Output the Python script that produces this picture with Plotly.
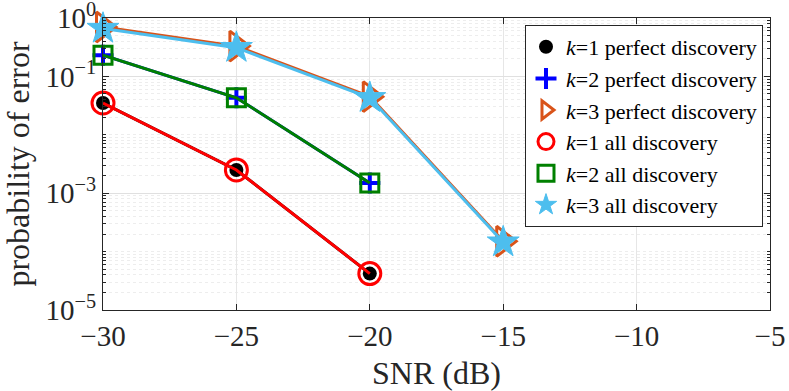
import plotly.graph_objects as go

snr = [-30, -25, -20, -15]

k1_perfect = [0.035, 0.0025, 4.2e-5]
k2_perfect = [0.23, 0.043, 0.0015]
k3_perfect = [0.70, 0.33, 0.045, 1.5e-4]
k1_all = [0.035, 0.0025, 4.2e-5]
k2_all = [0.23, 0.043, 0.0015]
k3_all = [0.66, 0.31, 0.043, 1.45e-4]

y_ticks = [1, 0.1, 1e-3, 1e-5]
y_ticktext = ["10<sup>0</sup>", "10<sup>\u22121</sup>", "10<sup>\u22123</sup>", "10<sup>\u22125</sup>"]
x_ticks = [-30, -25, -20, -15, -10, -5]
x_ticktext = ["\u221230", "\u221225", "\u221220", "\u221215", "\u221210", "\u22125"]

minor_y = [m * 10.0 ** e for e in range(-5, 0) for m in range(2, 10)] + [1e-2, 1e-4]

fig = go.Figure()

series = [
    ("<i>k</i>=1 perfect discovery", k1_perfect, "black", "circle", 14, 0),
    ("<i>k</i>=2 perfect discovery", k2_perfect, "#0000FF", "cross-thin-open", 15, 4),
    ("<i>k</i>=3 perfect discovery", k3_perfect, "#D95319", "triangle-right-open", 26, 3),
    ("<i>k</i>=1 all discovery", k1_all, "#FF0000", "circle-open", 22, 3),
    ("<i>k</i>=2 all discovery", k2_all, "#008000", "square-open", 18, 3),
    ("<i>k</i>=3 all discovery", k3_all, "#4DBEEE", "star", 24, 1),
]

for name, vals, color, sym, size, mlw in series:
    marker = dict(symbol=sym, size=size, color=color, line=dict(color=color, width=mlw))
    fig.add_trace(go.Scatter(
        x=snr[:len(vals)], y=vals, name=name, mode="lines+markers",
        line=dict(color=color, width=3), marker=marker, showlegend=False,
        cliponaxis=False,
    ))
    # marker-only legend entry, as in the MATLAB legend
    fig.add_trace(go.Scatter(
        x=[None], y=[None], name=name, mode="markers", marker=marker,
    ))

fig.update_layout(
    width=789, height=391,
    margin=dict(l=103, r=19, t=18, b=81),
    plot_bgcolor="white", paper_bgcolor="white",
    font=dict(family="Liberation Serif", size=29, color="#262626"),
    legend=dict(x=0.9895, y=0.976, xanchor="right", yanchor="top",
                bgcolor="white", bordercolor="#262626", borderwidth=1,
                font=dict(size=22, color="black"), tracegroupgap=0,
                itemwidth=30),
    showlegend=True,
)

fig.update_xaxes(
    range=[-30, -5], tickvals=x_ticks, ticktext=x_ticktext, automargin=False,
    showline=True, linecolor="#262626", linewidth=1, mirror="ticks",
    ticks="inside", ticklen=6, tickcolor="#262626", ticklabeloverflow="allow",
    showgrid=True, gridcolor="#E6E6E6", zeroline=False,
    title=dict(text="SNR (dB)", font=dict(size=32)),
)
fig.update_yaxes(
    type="log", range=[-5, 0], tickvals=y_ticks, ticktext=y_ticktext, automargin=False,
    showline=True, linecolor="#262626", linewidth=1, mirror="ticks",
    ticks="inside", ticklen=6, tickcolor="#262626", ticklabeloverflow="allow",
    showgrid=True, gridcolor="#E0E0E0",
    minor=dict(tickvals=minor_y, ticks="inside", ticklen=3, tickcolor="#262626",
               showgrid=True, gridcolor="#EDEDED", griddash="dot"),
    title=dict(text="probability of error", font=dict(size=32)),
)

fig.write_html("out.html", config={"displayModeBar": False},
               post_script="document.body.style.margin='0';")
